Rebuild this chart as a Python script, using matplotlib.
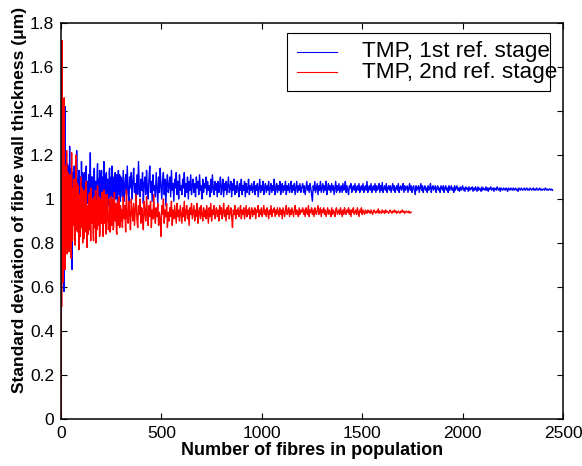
import numpy as np
import matplotlib
matplotlib.use("Agg")
import matplotlib.pyplot as plt
from matplotlib.patches import Rectangle
from matplotlib.lines import Line2D
from matplotlib.ticker import FuncFormatter

plt.rcParams['font.family'] = ['Liberation Sans', 'DejaVu Sans']

series_names = ["TMP, 1st ref. stage", "TMP, 2nd ref. stage"]
x_ticks = [0, 500, 1000, 1500, 2000, 2500]
y_ticks = [0, 0.2, 0.4, 0.6, 0.8, 1.0, 1.2, 1.4, 1.6, 1.8]

# sampled fibre counts
stage1_n = np.concatenate([np.arange(1, 61), np.arange(62, 301, 2),
                           np.arange(302, 1201, 4), np.arange(1204, 2449, 4)])
stage2_n = np.concatenate([np.arange(1, 61), np.arange(62, 301, 2),
                           np.arange(302, 1201, 4), np.arange(1204, 1745, 4)])

stage1_sd = [
    # N 1..60
    0.15, 1.50, 0.92, 1.31, 0.76, 1.18, 0.95, 1.36, 1.02, 0.84,
    1.12, 0.93, 1.27, 0.88, 0.58, 1.05, 1.19, 0.82, 1.08, 1.42,
    0.97, 0.86, 1.14, 1.03, 0.91, 1.21, 0.99, 1.10, 0.87, 1.06,
    0.94, 1.16, 1.01, 0.90, 1.12, 0.96, 1.08, 0.92, 1.15, 1.00,
    0.89, 1.11, 1.24, 0.97, 1.05, 0.93, 1.13, 1.02, 0.95, 1.09,
    0.91, 1.14, 1.00, 0.96, 0.68, 1.07, 1.12, 0.98, 1.04, 1.10,
    # N 62..300 (step 2)
    1.02, 0.94, 1.15, 1.03, 0.97, 1.12, 1.11, 0.96, 1.22, 1.04, 0.99, 1.09,
    1.08, 0.97, 1.13, 1.01, 0.95, 1.10, 1.06, 0.98, 1.17, 1.03, 1.01, 1.12,
    1.09, 0.97, 0.96, 1.10, 1.12, 0.99, 1.04, 1.13, 1.15, 1.00, 0.98, 1.08,
    1.07, 0.99, 1.11, 1.03, 1.00, 1.09, 1.21, 1.02, 1.03, 1.10, 0.97, 1.06,
    1.10, 0.98, 1.05, 1.12, 1.14, 1.01, 0.99, 1.08, 1.08, 0.98, 1.02, 1.11,
    1.16, 1.00, 1.04, 1.09, 0.96, 1.13, 1.11, 0.99, 1.06, 1.10, 1.13, 1.02,
    1.00, 1.10, 1.09, 0.98, 1.17, 1.05, 1.03, 1.11, 0.98, 1.07, 1.12, 1.00,
    1.05, 1.09, 1.08, 0.99, 0.97, 1.12, 1.14, 1.01, 1.02, 1.09, 1.10, 0.99,
    1.15, 1.03, 1.01, 1.10, 1.07, 0.98, 0.99, 1.08, 1.12, 1.00, 1.04, 1.11,
    1.09, 1.00, 0.98, 1.10, 1.13, 1.02, 1.06, 1.11, 1.01, 0.99, 1.10, 1.04,
    # N 302..1198 (step 4)
    1.09, 1.01, 1.13, 0.99, 1.06, 1.11, 1.02, 1.15, 1.04, 0.98, 1.10, 1.05, 1.12, 1.00, 1.08,
    1.14, 1.03, 1.07, 0.99, 1.11, 1.02, 1.17, 1.05, 1.01, 1.09, 1.04, 1.12, 0.98, 1.07, 1.10,
    1.02, 1.13, 1.05, 1.00, 1.09, 1.15, 1.03, 1.08, 0.99, 1.11, 1.04, 1.06, 1.01, 1.12, 1.05,
    0.98, 1.10, 1.03, 1.14, 1.06, 1.00, 1.08, 1.12, 1.02, 1.09, 0.97, 1.07, 1.11, 1.03, 1.06,
    1.10, 1.01, 1.13, 1.04, 1.07, 0.99, 1.09, 1.05, 1.12, 1.02, 1.08, 1.00, 1.11, 1.04, 1.06,
    1.02, 1.09, 1.05, 1.12, 1.01, 1.07, 1.03, 1.10, 1.00, 1.08, 1.04, 1.11, 1.02, 1.06, 1.09,
    1.03, 1.07, 1.01, 1.10, 1.05, 1.08, 1.02, 1.11, 1.04, 1.06, 1.00, 1.09, 1.03, 1.07, 1.05,
    1.10, 1.02, 1.08, 1.04, 1.06, 1.01, 1.09, 1.03, 1.11, 1.05, 1.02, 1.08, 1.04, 1.07, 1.01,
    1.08, 1.03, 1.06, 1.10, 1.02, 1.05, 1.09, 1.01, 1.07, 1.04, 1.08, 1.02, 1.06, 1.10, 1.03,
    1.05, 1.08, 1.01, 1.07, 1.04, 1.09, 1.02, 1.06, 1.03, 1.08, 1.05, 1.01, 1.07, 1.04, 1.09,
    1.02, 1.06, 1.04, 1.08, 1.01, 1.07, 1.03, 1.05, 1.09, 1.02, 1.06, 1.04, 1.07, 1.03, 1.05,
    1.08, 1.02, 1.06, 1.04, 1.07, 1.01, 1.05, 1.09, 1.03, 1.06, 1.04, 1.08, 1.02, 1.05, 1.07,
    1.03, 1.06, 1.04, 1.08, 1.02, 1.05, 1.07, 1.03, 1.06, 1.04, 1.09, 1.02, 1.05, 1.07, 1.03,
    1.06, 1.04, 1.08, 1.02, 1.05, 1.07, 1.03, 1.06, 1.04, 1.08, 1.02, 1.06, 1.04, 1.07, 1.03,
    1.05, 1.08, 1.03, 1.06, 1.04, 1.07, 1.02, 1.05, 1.08, 1.03, 1.06, 1.04, 1.07, 1.03, 1.05,
    # N 1204..2448 (step 4)
    1.07, 1.03, 1.06, 1.02, 1.05, 1.08, 1.04, 1.06, 1.03, 1.07, 1.05, 1.02,
    0.99, 1.06, 1.04, 1.08, 1.03, 1.05, 1.07, 1.02, 1.06, 1.04, 1.08, 1.03,
    1.05, 1.07, 1.03, 1.06, 1.04, 1.08, 1.02, 1.05, 1.07, 1.04, 1.06, 1.03,
    1.07, 1.04, 1.06, 1.02, 1.05, 1.08, 1.03, 1.06, 1.04, 1.07, 1.03, 1.05,
    1.06, 1.03, 1.07, 1.04, 1.05, 1.08, 1.03, 1.06, 1.04, 1.02, 1.06, 1.05,
    1.07, 1.03, 1.05, 1.06, 1.04, 1.07, 1.03, 1.05, 1.06, 1.04, 1.07, 1.03,
    1.05, 1.06, 1.04, 1.07, 1.03, 1.05, 1.06, 1.04, 1.08, 1.03, 1.05, 1.06,
    1.04, 1.07, 1.03, 1.05, 1.06, 1.04, 1.07, 1.03, 1.06, 1.04, 1.05, 1.07,
    1.03, 1.06, 1.04, 1.075, 1.03, 1.05, 1.06, 1.04, 1.07, 1.03, 1.05, 1.06,
    1.04, 1.06, 1.03, 1.05, 1.07, 1.04, 1.06, 1.03, 1.05, 1.06, 1.04, 1.07,
    1.03, 1.05, 1.06, 1.04, 1.05, 1.07, 1.03, 1.06, 1.04, 1.05, 1.06, 1.03,
    1.05, 1.07, 1.04, 1.06, 1.03, 1.05, 1.06, 1.04, 1.02, 1.06, 1.04, 1.05,
    1.06, 1.03, 1.05, 1.07, 1.04, 1.06, 1.03, 1.05, 1.06, 1.04, 1.05, 1.03,
    1.06, 1.04, 1.05, 1.07, 1.03, 1.05, 1.06, 1.04, 1.05, 1.06, 1.03, 1.05,
    1.06, 1.04, 1.05, 1.03, 1.06, 1.05, 1.04, 1.06, 1.03, 1.05, 1.06, 1.04,
    1.05, 1.03, 1.06, 1.04, 1.05, 1.06, 1.04, 1.05, 1.03, 1.06, 1.04, 1.05,
    1.06, 1.04, 1.05, 1.035, 1.055, 1.04, 1.05, 1.06, 1.04, 1.05, 1.035, 1.055,
    1.045, 1.05, 1.035, 1.055, 1.04, 1.05, 1.045, 1.055, 1.035, 1.05, 1.04, 1.055,
    1.045, 1.035, 1.055, 1.04, 1.05, 1.045, 1.035, 1.055, 1.04, 1.05, 1.045, 1.04,
    1.055, 1.04, 1.05, 1.035, 1.05, 1.045, 1.055, 1.04, 1.045, 1.05, 1.035, 1.05,
    1.045, 1.04, 1.055, 1.045, 1.04, 1.05, 1.035, 1.05, 1.045, 1.04, 1.05, 1.045,
    1.04, 1.05, 1.045, 1.035, 1.05, 1.045, 1.04, 1.05, 1.045, 1.04, 1.05, 1.04,
    1.045, 1.05, 1.04, 1.045, 1.035, 1.05, 1.045, 1.04, 1.05, 1.045, 1.04, 1.045,
    1.05, 1.04, 1.045, 1.05, 1.04, 1.045, 1.04, 1.05, 1.045, 1.04, 1.045, 1.05,
    1.04, 1.045, 1.04, 1.05, 1.045, 1.04, 1.045, 1.05, 1.04, 1.045, 1.04, 1.045,
    1.045, 1.04, 1.05, 1.045, 1.04, 1.045, 1.04, 1.045, 1.045, 1.04, 1.045, 1.04,
]

stage2_sd = [
    # N 1..60
    0.00, 1.05, 0.51, 0.88, 1.30, 1.72, 0.74, 1.12, 0.62, 0.97,
    1.18, 0.80, 1.05, 0.69, 0.93, 1.46, 0.85, 1.10, 0.72, 0.68,
    1.02, 0.90, 1.15, 0.78, 0.99, 0.86, 1.08, 1.22, 0.83, 0.95,
    0.75, 1.04, 0.88, 1.12, 0.80, 0.97, 0.91, 1.09, 0.76, 1.00,
    0.87, 1.06, 0.93, 0.79, 1.11, 0.90, 0.98, 0.84, 1.03, 0.92,
    0.73, 1.07, 1.21, 0.86, 0.95, 1.02, 0.81, 0.99, 0.89, 1.05,
    # N 62..300 (step 2)
    0.88, 1.09, 1.04, 0.82, 0.79, 1.01, 1.20, 0.86, 0.92, 1.07, 0.85, 0.97,
    1.06, 0.84, 0.77, 1.02, 0.98, 0.83, 1.10, 0.91, 0.87, 1.05, 0.95, 0.80,
    1.03, 0.89, 0.82, 1.04, 0.99, 0.85, 0.91, 1.06, 1.08, 0.88, 0.78, 0.97,
    0.96, 0.84, 1.02, 0.92, 0.86, 1.03, 0.93, 0.81, 1.05, 0.90, 0.89, 1.00,
    0.97, 0.85, 0.81, 0.99, 1.01, 0.87, 0.92, 1.04, 0.80, 0.96, 0.99, 0.86,
    1.06, 0.90, 0.88, 1.01, 0.95, 0.83, 0.84, 0.97, 1.00, 0.89, 0.91, 1.03,
    0.97, 0.85, 0.83, 0.98, 1.04, 0.89, 0.90, 1.02, 0.96, 0.84, 0.86, 0.99,
    1.02, 0.90, 0.93, 0.86, 0.88, 1.00, 0.98, 0.85, 0.85, 0.97, 1.01, 0.88,
    0.92, 1.00, 0.95, 0.86, 0.87, 0.99, 1.03, 0.91, 0.90, 0.98, 0.96, 0.85,
    0.84, 0.97, 0.99, 0.88, 0.93, 1.01, 1.00, 0.87, 0.88, 0.97, 0.95, 0.90,
    # N 302..1198 (step 4)
    0.95, 0.87, 1.01, 0.91, 0.97, 0.85, 1.04, 0.92, 0.89, 0.99, 0.93, 0.86, 1.00, 0.94, 0.90,
    0.98, 0.88, 0.95, 1.02, 0.91, 0.87, 0.97, 0.93, 1.00, 0.89, 0.96, 0.92, 0.86, 0.99, 0.94,
    0.90, 1.01, 0.93, 0.88, 0.97, 0.92, 0.99, 0.87, 0.95, 0.91, 1.02, 0.93, 0.89, 0.96, 0.92,
    0.98, 0.88, 0.94, 0.91, 0.83, 0.97, 0.93, 1.00, 0.89, 0.95, 0.92, 0.98, 0.87, 0.94, 0.90,
    0.96, 0.92, 0.99, 0.88, 0.95, 0.91, 0.97, 0.93, 0.89, 0.98, 0.92, 0.95, 0.90, 0.97, 0.93,
    0.89, 0.96, 0.92, 0.99, 0.90, 0.94, 0.97, 0.91, 0.95, 0.88, 0.96, 0.93, 0.98, 0.91, 0.94,
    0.97, 0.90, 0.95, 0.92, 0.98, 0.89, 0.94, 0.96, 0.91, 0.97, 0.93, 0.90, 0.96, 0.92, 0.95,
    0.91, 0.97, 0.93, 0.89, 0.96, 0.92, 0.98, 0.90, 0.95, 0.93, 0.97, 0.91, 0.94, 0.96, 0.92,
    0.95, 0.90, 0.97, 0.93, 0.96, 0.91, 0.94, 0.98, 0.92, 0.95, 0.90, 0.96, 0.93, 0.97, 0.91,
    0.94, 0.96, 0.92, 0.87, 0.95, 0.93, 0.97, 0.91, 0.95, 0.93, 0.96, 0.92, 0.94, 0.97, 0.91,
    0.95, 0.93, 0.96, 0.91, 0.94, 0.97, 0.92, 0.95, 0.93, 0.96, 0.91, 0.94, 0.96, 0.92, 0.95,
    0.93, 0.96, 0.91, 0.95, 0.94, 0.97, 0.92, 0.95, 0.93, 0.96, 0.92, 0.94, 0.97, 0.93, 0.95,
    0.92, 0.96, 0.94, 0.91, 0.95, 0.93, 0.97, 0.92, 0.95, 0.94, 0.96, 0.92, 0.95, 0.93, 0.96,
    0.94, 0.92, 0.96, 0.93, 0.95, 0.91, 0.96, 0.94, 0.92, 0.95, 0.97, 0.93, 0.94, 0.96, 0.92,
    0.95, 0.93, 0.96, 0.94, 0.92, 0.95, 0.97, 0.93, 0.95, 0.94, 0.92, 0.96, 0.93, 0.95, 0.94,
    # N 1204..1744 (step 4)
    0.96, 0.93, 0.95, 0.92, 0.96, 0.94, 0.93, 0.97, 0.92, 0.95, 0.94, 0.96,
    0.93, 0.95, 0.92, 0.96, 0.94, 0.93, 0.95, 0.97, 0.93, 0.94, 0.96, 0.92,
    0.95, 0.94, 0.96, 0.93, 0.95, 0.92, 0.94, 0.96, 0.93, 0.95, 0.94, 0.92,
    0.96, 0.93, 0.95, 0.94, 0.92, 0.95, 0.96, 0.93, 0.94, 0.95, 0.93, 0.96,
    0.94, 0.92, 0.95, 0.93, 0.96, 0.94, 0.93, 0.95, 0.94, 0.96, 0.93, 0.95,
    0.92, 0.95, 0.94, 0.96, 0.93, 0.94, 0.95, 0.93, 0.96, 0.94, 0.92, 0.95,
    0.94, 0.96, 0.93, 0.95, 0.94, 0.93, 0.95, 0.94, 0.935, 0.95, 0.94, 0.945,
    0.935, 0.95, 0.94, 0.93, 0.945, 0.95, 0.94, 0.935, 0.945, 0.94, 0.955, 0.935,
    0.945, 0.94, 0.935, 0.95, 0.94, 0.945, 0.935, 0.95, 0.94, 0.945, 0.94, 0.935,
    0.945, 0.95, 0.94, 0.935, 0.945, 0.94, 0.95, 0.94, 0.945, 0.935, 0.94, 0.945,
    0.94, 0.935, 0.945, 0.94, 0.95, 0.94, 0.945, 0.935, 0.94, 0.945, 0.94, 0.94,
    0.945, 0.935, 0.94, 0.94,
]

series_colors = ["#0000ff", "#ff0000"]

fig = plt.figure(figsize=(5.82, 4.66), dpi=100)
ax = fig.add_axes([61 / 582, 1 - 419 / 466, 502 / 582, 396 / 466])

ax.plot(stage1_n, stage1_sd, color=series_colors[0], lw=1.0)
ax.plot(stage2_n, stage2_sd, color=series_colors[1], lw=1.0)

ax.set_xlim(0, 2500)
ax.set_ylim(0, 1.8)
ax.set_xticks(x_ticks)
ax.set_yticks(y_ticks)
ax.yaxis.set_major_formatter(FuncFormatter(lambda v, p: "%g" % round(v, 2)))
ax.tick_params(direction='in', length=4, width=0.8, top=True, right=True,
               labelsize=12.5, pad=5, colors='black')
for s in ax.spines.values():
    s.set_linewidth(1.1)

ax.set_xlabel("Number of fibres in population", fontsize=13, fontweight='bold', labelpad=1)
ax.set_ylabel("Standard deviation of fibre wall thickness (\u03bcm)", fontsize=12.5,
              fontweight='bold')
ax.yaxis.set_label_coords(-0.068, 0.553)

# MATLAB-style legend drawn in axes coordinates
ax.add_patch(Rectangle((0.450, 0.828), 0.524, 0.147, transform=ax.transAxes,
                       facecolor='white', edgecolor='black', lw=0.8, zorder=5))
leg_y = [0.927, 0.876]
for name, col, yy in zip(series_names, series_colors, leg_y):
    ax.add_line(Line2D([0.470, 0.550], [yy, yy], transform=ax.transAxes,
                       color=col, lw=0.8, zorder=6))
    ax.text(0.600, yy, name, transform=ax.transAxes, fontsize=16.2,
            va='center', ha='left', zorder=6, clip_on=False)

fig.savefig("out.png", dpi=100)
